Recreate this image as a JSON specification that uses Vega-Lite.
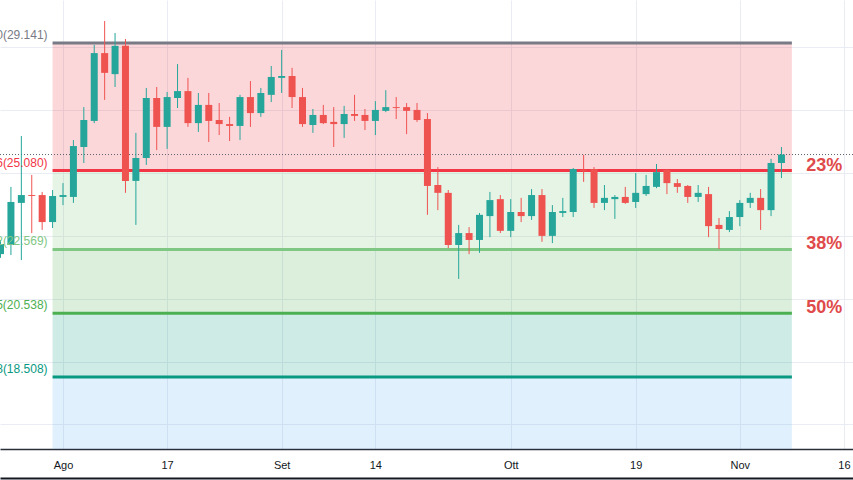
{
  "$schema": "https://vega.github.io/schema/vega-lite/v6.json",
  "width": 853,
  "height": 449,
  "autosize": {"type": "none"},
  "padding": {"left": 0, "top": 0, "right": 0, "bottom": 31},
  "background": "#ffffff",
  "config": {"view": {"stroke": null}, "font": "Liberation Sans"},
  "datasets": {
    "candles": [
      {"date": "2020-07-24", "t": -6, "open": 22.42, "high": 22.87, "low": 22.30, "close": 22.74},
      {"date": "2020-07-27", "t": -5, "open": 22.71, "high": 24.56, "low": 22.39, "close": 24.08},
      {"date": "2020-07-28", "t": -4, "open": 24.05, "high": 26.18, "low": 22.23, "close": 24.30},
      {"date": "2020-07-29", "t": -3, "open": 24.30, "high": 24.94, "low": 23.09, "close": 24.27},
      {"date": "2020-07-30", "t": -2, "open": 24.30, "high": 24.40, "low": 23.19, "close": 23.44},
      {"date": "2020-07-31", "t": -1, "open": 23.44, "high": 24.46, "low": 23.25, "close": 24.27},
      {"date": "2020-08-03", "t": 0, "open": 24.24, "high": 24.68, "low": 23.98, "close": 24.30},
      {"date": "2020-08-04", "t": 1, "open": 24.24, "high": 26.05, "low": 24.05, "close": 25.86},
      {"date": "2020-08-05", "t": 2, "open": 25.83, "high": 27.10, "low": 25.32, "close": 26.69},
      {"date": "2020-08-06", "t": 3, "open": 26.66, "high": 29.08, "low": 26.59, "close": 28.82},
      {"date": "2020-08-07", "t": 4, "open": 28.82, "high": 29.84, "low": 27.33, "close": 28.19},
      {"date": "2020-08-10", "t": 5, "open": 28.15, "high": 29.46, "low": 27.74, "close": 29.05},
      {"date": "2020-08-11", "t": 6, "open": 29.05, "high": 29.27, "low": 24.37, "close": 24.75},
      {"date": "2020-08-12", "t": 7, "open": 24.75, "high": 26.28, "low": 23.35, "close": 25.48},
      {"date": "2020-08-13", "t": 8, "open": 25.48, "high": 27.71, "low": 25.26, "close": 27.39},
      {"date": "2020-08-14", "t": 9, "open": 27.39, "high": 27.74, "low": 25.73, "close": 26.47},
      {"date": "2020-08-17", "t": 10, "open": 26.47, "high": 27.58, "low": 25.77, "close": 27.42},
      {"date": "2020-08-18", "t": 11, "open": 27.39, "high": 28.47, "low": 27.07, "close": 27.61},
      {"date": "2020-08-19", "t": 12, "open": 27.61, "high": 28.03, "low": 26.47, "close": 26.59},
      {"date": "2020-08-20", "t": 13, "open": 26.59, "high": 27.55, "low": 26.31, "close": 27.17},
      {"date": "2020-08-21", "t": 14, "open": 27.17, "high": 27.55, "low": 25.99, "close": 26.66},
      {"date": "2020-08-24", "t": 15, "open": 26.69, "high": 27.23, "low": 26.21, "close": 26.56},
      {"date": "2020-08-25", "t": 16, "open": 26.56, "high": 26.79, "low": 26.02, "close": 26.50},
      {"date": "2020-08-26", "t": 17, "open": 26.50, "high": 27.49, "low": 26.05, "close": 27.42},
      {"date": "2020-08-27", "t": 18, "open": 27.42, "high": 27.93, "low": 26.47, "close": 26.91},
      {"date": "2020-08-28", "t": 19, "open": 26.91, "high": 27.71, "low": 26.79, "close": 27.55},
      {"date": "2020-08-31", "t": 20, "open": 27.49, "high": 28.41, "low": 27.26, "close": 28.06},
      {"date": "2020-09-01", "t": 21, "open": 28.03, "high": 28.92, "low": 27.55, "close": 28.09},
      {"date": "2020-09-02", "t": 22, "open": 28.09, "high": 28.35, "low": 27.07, "close": 27.42},
      {"date": "2020-09-03", "t": 23, "open": 27.42, "high": 27.71, "low": 26.47, "close": 26.56},
      {"date": "2020-09-04", "t": 24, "open": 26.53, "high": 27.04, "low": 26.28, "close": 26.85},
      {"date": "2020-09-07", "t": 25, "open": 26.85, "high": 27.17, "low": 26.56, "close": 26.59},
      {"date": "2020-09-08", "t": 26, "open": 26.63, "high": 27.10, "low": 25.83, "close": 26.56},
      {"date": "2020-09-09", "t": 27, "open": 26.56, "high": 27.14, "low": 26.12, "close": 26.88},
      {"date": "2020-09-10", "t": 28, "open": 26.88, "high": 27.49, "low": 26.66, "close": 26.82},
      {"date": "2020-09-11", "t": 29, "open": 26.85, "high": 27.04, "low": 26.37, "close": 26.66},
      {"date": "2020-09-14", "t": 30, "open": 26.66, "high": 27.29, "low": 26.21, "close": 27.01},
      {"date": "2020-09-15", "t": 31, "open": 26.98, "high": 27.64, "low": 26.94, "close": 27.10},
      {"date": "2020-09-16", "t": 32, "open": 27.10, "high": 27.42, "low": 26.72, "close": 27.07},
      {"date": "2020-09-17", "t": 33, "open": 27.10, "high": 27.23, "low": 26.24, "close": 26.98},
      {"date": "2020-09-18", "t": 34, "open": 27.01, "high": 27.23, "low": 26.63, "close": 26.69},
      {"date": "2020-09-21", "t": 35, "open": 26.72, "high": 26.91, "low": 23.67, "close": 24.59},
      {"date": "2020-09-22", "t": 36, "open": 24.62, "high": 25.19, "low": 23.82, "close": 24.37},
      {"date": "2020-09-23", "t": 37, "open": 24.37, "high": 24.46, "low": 22.61, "close": 22.71},
      {"date": "2020-09-24", "t": 38, "open": 22.71, "high": 23.35, "low": 21.63, "close": 23.09},
      {"date": "2020-09-25", "t": 39, "open": 23.09, "high": 23.28, "low": 22.42, "close": 22.87},
      {"date": "2020-09-28", "t": 40, "open": 22.87, "high": 23.73, "low": 22.46, "close": 23.67},
      {"date": "2020-09-29", "t": 41, "open": 23.63, "high": 24.40, "low": 22.96, "close": 24.14},
      {"date": "2020-09-30", "t": 42, "open": 24.17, "high": 24.30, "low": 23.09, "close": 23.16},
      {"date": "2020-10-01", "t": 43, "open": 23.16, "high": 24.17, "low": 22.96, "close": 23.76},
      {"date": "2020-10-02", "t": 44, "open": 23.76, "high": 24.21, "low": 23.44, "close": 23.63},
      {"date": "2020-10-05", "t": 45, "open": 23.63, "high": 24.49, "low": 23.51, "close": 24.30},
      {"date": "2020-10-06", "t": 46, "open": 24.30, "high": 24.49, "low": 22.81, "close": 23.00},
      {"date": "2020-10-07", "t": 47, "open": 23.00, "high": 23.98, "low": 22.77, "close": 23.76},
      {"date": "2020-10-08", "t": 48, "open": 23.73, "high": 24.21, "low": 23.60, "close": 23.79},
      {"date": "2020-10-09", "t": 49, "open": 23.76, "high": 25.16, "low": 23.60, "close": 25.13},
      {"date": "2020-10-12", "t": 50, "open": 25.10, "high": 25.58, "low": 24.72, "close": 25.07},
      {"date": "2020-10-13", "t": 51, "open": 25.13, "high": 25.19, "low": 23.89, "close": 24.05},
      {"date": "2020-10-14", "t": 52, "open": 24.05, "high": 24.62, "low": 23.82, "close": 24.21},
      {"date": "2020-10-15", "t": 53, "open": 24.17, "high": 24.30, "low": 23.54, "close": 24.24},
      {"date": "2020-10-16", "t": 54, "open": 24.24, "high": 24.56, "low": 24.02, "close": 24.05},
      {"date": "2020-10-19", "t": 55, "open": 24.08, "high": 25.00, "low": 23.89, "close": 24.37},
      {"date": "2020-10-20", "t": 56, "open": 24.33, "high": 24.94, "low": 24.27, "close": 24.59},
      {"date": "2020-10-21", "t": 57, "open": 24.56, "high": 25.29, "low": 24.52, "close": 25.03},
      {"date": "2020-10-22", "t": 58, "open": 25.10, "high": 25.13, "low": 24.33, "close": 24.68},
      {"date": "2020-10-23", "t": 59, "open": 24.68, "high": 24.81, "low": 24.37, "close": 24.56},
      {"date": "2020-10-26", "t": 60, "open": 24.59, "high": 24.62, "low": 24.05, "close": 24.24},
      {"date": "2020-10-27", "t": 61, "open": 24.24, "high": 24.62, "low": 24.08, "close": 24.37},
      {"date": "2020-10-28", "t": 62, "open": 24.33, "high": 24.56, "low": 22.96, "close": 23.31},
      {"date": "2020-10-29", "t": 63, "open": 23.35, "high": 23.57, "low": 22.58, "close": 23.22},
      {"date": "2020-10-30", "t": 64, "open": 23.19, "high": 23.79, "low": 23.12, "close": 23.60},
      {"date": "2020-11-02", "t": 65, "open": 23.60, "high": 24.14, "low": 23.31, "close": 24.05},
      {"date": "2020-11-03", "t": 66, "open": 24.05, "high": 24.37, "low": 23.89, "close": 24.21},
      {"date": "2020-11-04", "t": 67, "open": 24.21, "high": 24.49, "low": 23.19, "close": 23.82},
      {"date": "2020-11-05", "t": 68, "open": 23.82, "high": 25.45, "low": 23.63, "close": 25.32},
      {"date": "2020-11-06", "t": 69, "open": 25.32, "high": 25.83, "low": 24.84, "close": 25.59}
    ],
    "levels": [
      {"lv": "0", "price": 29.141, "label": "0(29.141)"},
      {"lv": "0.236", "price": 25.080, "label": "0.236(25.080)"},
      {"lv": "0.382", "price": 22.569, "label": "0.382(22.569)"},
      {"lv": "0.5", "price": 20.538, "label": "0.5(20.538)"},
      {"lv": "0.618", "price": 18.508, "label": "0.618(18.508)"}
    ],
    "zones": [
      {"lv": "0.236", "top": 29.141, "bottom": 25.080},
      {"lv": "0.382", "top": 25.080, "bottom": 22.569},
      {"lv": "0.5", "top": 22.569, "bottom": 20.538},
      {"lv": "0.618", "top": 20.538, "bottom": 18.508},
      {"lv": "0.786", "top": 18.508, "bottom": 15.616}
    ],
    "tags": [
      {"price": 25.080, "tag": "23%"},
      {"price": 22.569, "tag": "38%"},
      {"price": 20.538, "tag": "50%"}
    ]
  },
  "layer": [
    {
      "layer": [
        {
          "data": {"name": "zones"},
          "mark": {"type": "rect", "opacity": 0.2, "clip": true},
          "encoding": {
            "x": {
              "datum": -1, "type": "quantitative",
              "scale": {"domain": [-6.05, 75.87], "nice": false, "zero": false, "padding": 0},
              "axis": {
                "title": null,
                "values": [0, 10, 21, 30, 43, 55, 65, 75],
                "labelExpr": "datum.value == 0 ? 'Ago' : datum.value == 10 ? '17' : datum.value == 21 ? 'Set' : datum.value == 30 ? '14' : datum.value == 43 ? 'Ott' : datum.value == 55 ? '19' : datum.value == 65 ? 'Nov' : '16'",
                "labelFlush": false, "labelOverlap": false, "labelBound": false,
                "labelFontSize": 11, "labelColor": "#131722", "labelPadding": 10,
                "ticks": false, "domain": true, "domainColor": "#2a2e39", "domainWidth": 1.5,
                "grid": true, "gridColor": "#e9ecf2", "gridWidth": 1
              }
            },
            "x2": {"datum": 70},
            "y": {
              "field": "top", "type": "quantitative",
              "scale": {"domain": [16.215, 30.51], "nice": false, "zero": false, "padding": 0},
              "axis": {
                "title": null, "values": [17, 18, 19, 20, 21, 22, 23, 24, 25, 26, 27, 28, 29, 30],
                "labels": false, "ticks": false, "domain": false,
                "grid": true, "gridColor": "#e9ecf2", "gridWidth": 1
              }
            },
            "y2": {"field": "bottom"},
            "color": {
              "field": "lv", "type": "nominal",
              "scale": {"domain": ["0", "0.236", "0.382", "0.5", "0.618", "0.786"], "range": ["#787b86", "#f23645", "#81c784", "#4caf50", "#089981", "#64b5f6"]},
              "legend": null
            }
          }
        },
        {
          "data": {"name": "levels"},
          "mark": {"type": "rule", "strokeWidth": 3, "clip": true},
          "encoding": {
            "x": {"datum": -1, "type": "quantitative"},
            "x2": {"datum": 70},
            "y": {"field": "price", "type": "quantitative"},
            "color": {"field": "lv", "type": "nominal", "legend": null}
          }
        },
        {
          "data": {"name": "candles"},
          "transform": [{"filter": "datum.t == 69"}],
          "mark": {"type": "rule", "strokeDash": [1, 2], "strokeWidth": 1, "color": "#5d606b", "clip": true},
          "encoding": {
            "y": {"field": "close", "type": "quantitative"}
          }
        },
        {
          "data": {"name": "candles"},
          "mark": {"type": "rule", "strokeWidth": 1, "clip": true},
          "encoding": {
            "x": {"field": "t", "type": "quantitative"},
            "y": {"field": "low", "type": "quantitative"},
            "y2": {"field": "high"},
            "color": {"condition": {"test": "datum.close >= datum.open", "value": "#26a69a"}, "value": "#ef5350"}
          }
        },
        {
          "data": {"name": "candles"},
          "mark": {"type": "bar", "width": 7, "clip": true},
          "encoding": {
            "x": {"field": "t", "type": "quantitative"},
            "y": {"field": "open", "type": "quantitative"},
            "y2": {"field": "close"},
            "color": {"condition": {"test": "datum.close >= datum.open", "value": "#26a69a"}, "value": "#ef5350"}
          }
        },
        {
          "data": {"name": "levels"},
          "mark": {"type": "text", "align": "right", "baseline": "alphabetic", "dx": -5, "dy": -4, "fontSize": 12, "clip": true},
          "encoding": {
            "x": {"datum": -1, "type": "quantitative"},
            "y": {"field": "price", "type": "quantitative"},
            "text": {"field": "label"},
            "color": {"field": "lv", "type": "nominal", "legend": null}
          }
        },
        {
          "data": {"name": "tags"},
          "mark": {"type": "text", "align": "center", "baseline": "alphabetic", "fontSize": 18, "fontWeight": "bold", "color": "#df4a4a", "clip": true},
          "encoding": {
            "x": {"datum": 73.1, "type": "quantitative"},
            "y": {"field": "price", "type": "quantitative"},
            "text": {"field": "tag"}
          }
        }
      ]
    },
    {
      "data": {"name": "tags"},
      "mark": {"type": "rule", "opacity": 0},
      "encoding": {
        "x": {
          "datum": 0, "type": "quantitative",
          "axis": {
            "orient": "bottom", "offset": 29, "title": null,
            "labels": false, "ticks": false, "grid": false,
            "domain": true, "domainColor": "#131722", "domainWidth": 2
          }
        }
      }
    }
  ],
  "resolve": {"axis": {"x": "independent"}}
}
